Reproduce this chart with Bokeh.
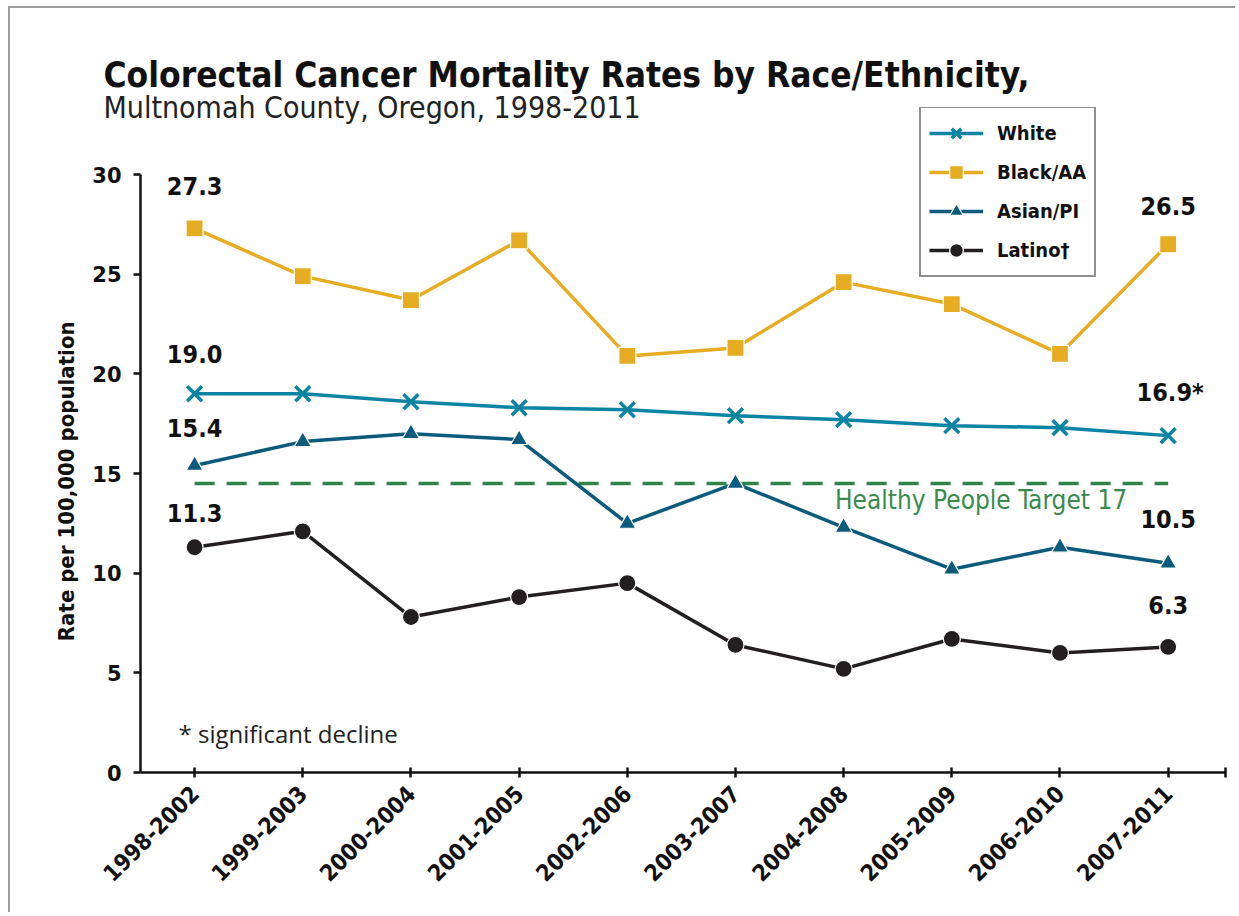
import math
from bokeh.plotting import figure
from bokeh.models import (Range1d, FixedTicker, Legend, LegendItem, Label,
                          ColumnDataSource, Title)
from bokeh.core.properties import value
from bokeh.embed import file_html
from bokeh.resources import INLINE

# ---- data ----
periods = ["1998-2002", "1999-2003", "2000-2004", "2001-2005", "2002-2006",
           "2003-2007", "2004-2008", "2005-2009", "2006-2010", "2007-2011"]
white = [19.0, 19.0, 18.6, 18.3, 18.2, 17.9, 17.7, 17.4, 17.3, 16.9]
black = [27.3, 24.9, 23.7, 26.7, 20.9, 21.3, 24.6, 23.5, 21.0, 26.5]
asian = [15.4, 16.6, 17.0, 16.7, 12.5, 14.5, 12.3, 10.2, 11.3, 10.5]
latino = [11.3, 12.1, 7.8, 8.8, 9.5, 6.4, 5.2, 6.7, 6.0, 6.3]
target = 14.5
y_ticks = [0, 5, 10, 15, 20, 25, 30]

C_WHITE = "#0b84a3"
C_BLACK = "#e6ad22"
C_ASIAN = "#0c5a7c"
C_LATINO = "#231f20"
C_TARGET = "#2f8449"

COND = "'DejaVu Sans Condensed', 'DejaVu Sans', sans-serif"
x = list(range(len(periods)))

# frame spans from the legend top down to y = 0; the y axis line stops at 30
PX_PER_UNIT = 598 / 30.0
FRAME_H = 665
p = figure(frame_width=1085, frame_height=FRAME_H, min_border_left=140,
           min_border_right=10, min_border_top=107, min_border_bottom=140,
           x_range=Range1d(-0.5, 9.53), y_range=Range1d(0, FRAME_H / PX_PER_UNIT),
           output_backend="svg", toolbar_location=None)
p.styles = {"background-color": "white",
            "box-shadow": "inset 8px 6px 0 0 #ffffff, inset 10px 8px 0 0 #9c9c9c"}
p.border_fill_color = None
p.outline_line_color = None
p.xgrid.visible = False
p.ygrid.visible = False
p.background_fill_color = "white"

# titles (subtitle first so that it sits nearer the frame)
sub = Title(text="Multnomah County, Oregon, 1998-2011", align="left",
            offset=-37, standoff=-34, text_font=COND, text_font_style="normal",
            text_font_size="30px", text_color="#222222")
main = Title(text="Colorectal Cancer Mortality Rates by Race/Ethnicity,",
             align="left", offset=-37, standoff=20, text_font=COND,
             text_font_style="bold", text_font_size="35px", text_color="#111111")
p.title.text = ""
p.add_layout(sub, "above")
p.add_layout(main, "above")

# target line
p.line([x[0], x[-1]], [target, target], line_color=C_TARGET, line_width=3.5,
       line_dash="20 12")

series = [
    ("White", white, C_WHITE, "x"),
    ("Black/AA", black, C_BLACK, "square"),
    ("Asian/PI", asian, C_ASIAN, "triangle"),
    ("Latino\u2020", latino, C_LATINO, "circle"),
]
items = []
for name, ys, col, mk in series:
    lr = p.line(x, ys, line_color=col, line_width=3.5)
    if mk == "x":
        sr = p.scatter(x, ys, marker="x", size=21, line_color=col, line_width=3.5)
    else:
        sr = p.scatter(x, ys, marker=mk, size=17,
                       fill_color=col, line_color="white", line_width=1.2)
    items.append(LegendItem(label=name, renderers=[lr, sr]))

legend = Legend(items=items, location=(779, 495),
                border_line_color="#222222", border_line_width=2,
                background_fill_color="white", background_fill_alpha=1,
                label_text_font=COND, label_text_font_style="bold",
                label_text_font_size="20px", label_text_color="#111111",
                glyph_width=54, glyph_height=34, label_height=34, spacing=5,
                padding=8, margin=0, label_standoff=14)
p.add_layout(legend)

# data labels at ends
lab_x = [0, 0, 0, 0, 9, 9, 9, 9]
lab_y = [black[0], white[0], asian[0], latino[0],
         black[-1], white[-1], asian[-1], latino[-1]]
lab_t = ["%.1f" % v for v in lab_y]
lab_t[5] = lab_t[5] + "*"
lab_xoff = [0, 0, 0, 0, 0, 2, 0, 0]
lab_yoff = [-42, -40, -38, -34, -38, -43, -44, -42]
src = ColumnDataSource(dict(x=lab_x, y=lab_y, t=lab_t, xo=lab_xoff, yo=lab_yoff))
p.text(x="x", y="y", text="t", x_offset="xo", y_offset="yo", source=src,
       text_align="center", text_baseline="middle",
       text_font=value(COND), text_font_style="bold",
       text_font_size="25px", text_color="#111111")

# target label
p.add_layout(Label(x=5.92, y=target, y_offset=-17, text="Healthy People Target 17",
                   text_font=COND, text_font_size="26px", text_color="#3a8a50",
                   text_baseline="middle", text_align="left"))

# note
p.add_layout(Label(x=38, y=39, x_units="screen", y_units="screen",
                   text="* significant decline", text_font="Open Sans",
                   text_font_size="24px", text_color="#222222",
                   text_baseline="middle"))

# axes
xa = p.xaxis[0]
xa.ticker = FixedTicker(ticks=x + [9.53])
overrides = {i: periods[i] for i in x}
overrides[9.53] = ""
xa.major_label_overrides = overrides
xa.major_label_orientation = math.pi / 4
xa.major_label_text_font = COND
xa.major_label_text_font_style = "bold"
xa.major_label_text_font_size = "23px"
xa.major_label_text_color = "#111111"
xa.major_tick_in = 5
xa.major_tick_out = 5
xa.minor_tick_line_color = None
xa.axis_line_width = 2.5
xa.major_tick_line_width = 2.5
xa.axis_line_color = "#111111"
xa.major_tick_line_color = "#111111"
xa.major_label_standoff = 12

ya = p.yaxis[0]
ya.bounds = (0, 30)
ya.ticker = FixedTicker(ticks=y_ticks)
ya.major_tick_in = 0
ya.major_tick_out = 7
ya.minor_tick_line_color = None
ya.axis_line_width = 2.5
ya.major_tick_line_width = 2.5
ya.axis_line_color = "#111111"
ya.major_tick_line_color = "#111111"
ya.major_label_text_font = "DejaVu Sans"
ya.major_label_text_font_style = "bold"
ya.major_label_text_font_size = "21px"
ya.major_label_text_color = "#111111"
ya.major_label_standoff = 12
# trailing no-break spaces centre the rotated title on the 0-30 span
ya.axis_label = "Rate per 100,000 population" + "\u00a0" * 12
ya.axis_label_text_font = COND
ya.axis_label_text_font_style = "bold"
ya.axis_label_text_font_size = "22px"
ya.axis_label_text_color = "#111111"
ya.axis_label_standoff = 10

open("out.html", "w").write(file_html(p, INLINE))
